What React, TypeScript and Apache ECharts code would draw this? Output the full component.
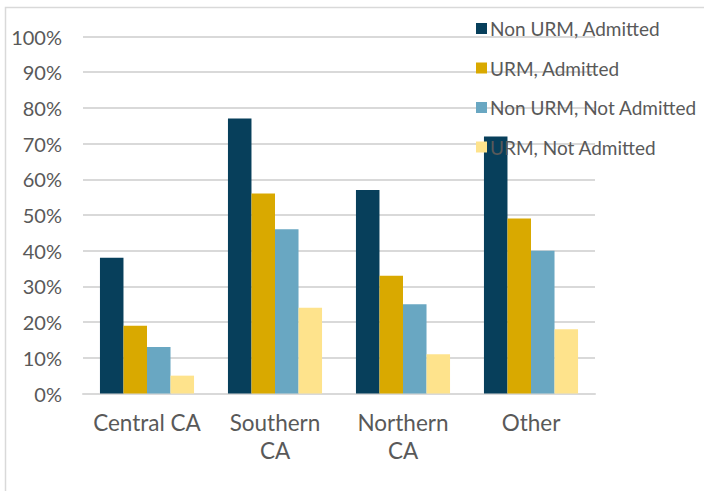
import React, { useEffect, useRef } from "react";
import * as echarts from "echarts";

const categories = ["Central CA", "Southern\nCA", "Northern\nCA", "Other"];
const seriesNames = ["Non URM, Admitted", "URM, Admitted", "Non URM, Not Admitted", "URM, Not Admitted"];
const nonUrmAdmitted = [38, 77, 57, 72];
const urmAdmitted = [19, 56, 33, 49];
const nonUrmNotAdmitted = [13, 46, 25, 40];
const urmNotAdmitted = [5, 24, 11, 18];
const colors = ["#073F5B", "#D9A900", "#69A7C2", "#FEE38C"];
const yTicks = [0, 10, 20, 30, 40, 50, 60, 70, 80, 90, 100];

export default function App() {
  const ref = useRef<HTMLDivElement>(null);
  useEffect(() => {
    if (!ref.current) return;
    const chart = echarts.init(ref.current, null, { renderer: "svg" });
    const font = "Lato, 'Open Sans', sans-serif";
    const data = [nonUrmAdmitted, urmAdmitted, nonUrmNotAdmitted, urmNotAdmitted];
    chart.setOption({
      animation: false,
      backgroundColor: "#ffffff",
      textStyle: { fontFamily: font, color: "#595959" },
      graphic: [
        {
          type: "rect",
          shape: { x: 5.5, y: 7.5, width: 760, height: 560 },
          style: { fill: "none", stroke: "#D9D9D9", lineWidth: 1.5 },
          silent: true,
          z: -10,
        },
      ],
      grid: { left: 83, right: 109, top: 36.5, bottom: 97.5, containLabel: false },
      legend: {
        orient: "vertical",
        left: 476,
        top: 19,
        padding: 0,
        itemWidth: 11,
        itemHeight: 11,
        itemGap: 20.5,
        icon: "rect",
        data: seriesNames,
        textStyle: { fontFamily: font, fontSize: 19, color: "#595959", lineHeight: 18, padding: [0, 0, 0, -2] },
      },
      xAxis: {
        type: "category",
        data: categories,
        axisLine: { show: true, lineStyle: { color: "#D9D9D9", width: 2 } },
        axisTick: { show: false },
        axisLabel: {
          fontFamily: font,
          fontSize: 22.5,
          color: "#595959",
          lineHeight: 28,
          margin: 15,
          interval: 0,
        },
      },
      yAxis: {
        type: "value",
        min: 0,
        max: 100,
        interval: 10,
        axisLine: { show: false },
        axisTick: { show: false },
        splitLine: { lineStyle: { color: "#D9D9D9", width: 2 } },
        axisLabel: {
          fontFamily: font,
          fontSize: 20,
          color: "#595959",
          margin: 21,
          formatter: (v: number) => (yTicks.includes(v) ? v + "%" : ""),
        },
      },
      series: seriesNames.map((name, i) => ({
        name,
        type: "bar",
        data: data[i],
        barGap: "0%",
        barCategoryGap: "26.5%",
        itemStyle: { color: colors[i] },
      })),
    });
    return () => chart.dispose();
  }, []);
  return (
    <div
      ref={ref}
      style={{ position: "fixed", left: 0, top: 0, width: 704, height: 491 }}
    />
  );
}
